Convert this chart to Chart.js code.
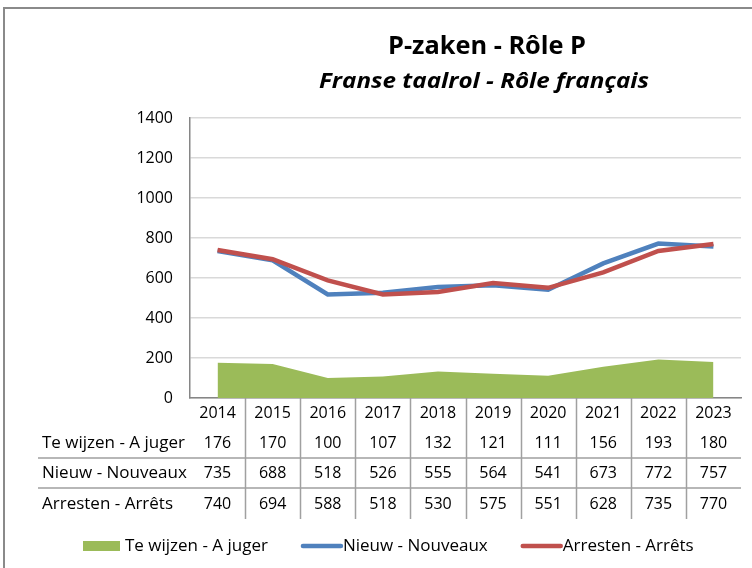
<!DOCTYPE html>
<html>
<head>
<meta charset="utf-8">
<script src="https://cdn.jsdelivr.net/npm/chart.js@4/dist/chart.umd.min.js"></script>
<style>
  html, body { margin: 0; padding: 0; background: #ffffff; }
  #wrap { width: 752px; height: 568px; }
</style>
</head>
<body>
<div id="wrap"><canvas id="c" width="752" height="568"></canvas></div>
<script>
// Categories and series
const years = ['2014', '2015', '2016', '2017', '2018', '2019', '2020', '2021', '2022', '2023'];
const teWijzen = [176, 170, 100, 107, 132, 121, 111, 156, 193, 180];
const nieuw = [735, 688, 518, 526, 555, 564, 541, 673, 772, 757];
const arresten = [740, 694, 588, 518, 530, 575, 551, 628, 735, 770];
const seriesNames = ['Te wijzen - A juger', 'Nieuw - Nouveaux', 'Arresten - Arrêts'];
const yMin = 0, yMax = 1400, yStep = 200;

const titleText = 'P-zaken - Rôle P';
const subtitleText = 'Franse taalrol - Rôle français';

const GREEN = '#9bbb59', BLUE = '#4f81bd', RED = '#c0504d';
const FONT = '"Open Sans", "DejaVu Sans", sans-serif';

// Draw text squeezed or stretched horizontally to a given width
function fitText(ctx, text, x, y, font, width, align) {
  ctx.save();
  ctx.font = font;
  const w = ctx.measureText(text).width;
  ctx.translate(x, y);
  ctx.scale(width / w, 1);
  ctx.textAlign = align || 'center';
  ctx.textBaseline = 'alphabetic';
  ctx.fillText(text, 0, 0);
  ctx.restore();
}

// Frame, titles, data table under the axis and the legend
const decorations = {
  id: 'decorations',
  afterDraw(chart) {
    const ctx = chart.ctx;
    const xs = chart.scales.x;
    const area = chart.chartArea;
    ctx.save();

    // outer frame
    ctx.strokeStyle = '#8a8a8a';
    ctx.lineWidth = 2;
    ctx.strokeRect(4, 8, 800, 600);

    // titles
    ctx.fillStyle = '#000';
    fitText(ctx, titleText, 487, 54, 'bold 25px ' + FONT, 198, 'center');
    fitText(ctx, subtitleText, 484, 88, 'italic bold 21px ' + FONT, 330, 'center');

    // data table
    const rows = [teWijzen, nieuw, arresten];
    const rowY = [443, 473, 504];
    const rowLines = [458, 488];
    ctx.strokeStyle = '#a0a0a0';
    ctx.lineWidth = 1.5;
    ctx.beginPath();
    for (let i = 0; i < years.length - 1; i++) {
      const bx = Math.round((xs.getPixelForValue(i) + xs.getPixelForValue(i + 1)) / 2) + 0.5;
      ctx.moveTo(bx, area.bottom);
      ctx.lineTo(bx, 519);
    }
    rowLines.forEach(ly => {
      ctx.moveTo(38, ly);
      ctx.lineTo(area.right, ly);
    });
    ctx.stroke();

    ctx.textBaseline = 'middle';
    rows.forEach((vals, r) => {
      ctx.font = '17px ' + FONT;
      ctx.textAlign = 'left';
      ctx.fillText(seriesNames[r], 42, rowY[r]);
      ctx.font = '16px ' + FONT;
      ctx.textAlign = 'center';
      vals.forEach((v, i) => ctx.fillText(String(v), xs.getPixelForValue(i), rowY[r]));
    });

    // legend
    const ly = 546;
    let lx = 83;
    chart.data.datasets.forEach((ds, i) => {
      if (i === 0) {
        ctx.fillStyle = ds.backgroundColor;
        ctx.fillRect(lx, ly - 5, 37, 10);
        lx += 42;
      } else {
        ctx.strokeStyle = ds.borderColor;
        ctx.lineWidth = 4.5;
        ctx.lineCap = 'round';
        ctx.beginPath();
        ctx.moveTo(lx + 2, ly);
        ctx.lineTo(lx + 40, ly);
        ctx.stroke();
        lx += 42;
      }
      ctx.fillStyle = '#000';
      ctx.font = '17px ' + FONT;
      ctx.textAlign = 'left';
      ctx.textBaseline = 'middle';
      ctx.fillText(ds.label, lx, ly);
      lx += ctx.measureText(ds.label).width + 33;
    });
    ctx.restore();
  }
};

new Chart(document.getElementById('c'), {
  type: 'line',
  data: {
    labels: years,
    datasets: [
      {
        label: seriesNames[0], data: teWijzen, fill: 'origin',
        backgroundColor: GREEN, borderColor: GREEN, borderWidth: 0,
        pointRadius: 0, tension: 0, order: 2
      },
      {
        label: seriesNames[1], data: nieuw, fill: false,
        borderColor: BLUE, backgroundColor: BLUE, borderWidth: 4.5,
        pointRadius: 0, tension: 0, order: 1
      },
      {
        label: seriesNames[2], data: arresten, fill: false,
        borderColor: RED, backgroundColor: RED, borderWidth: 4.5,
        pointRadius: 0, tension: 0, order: 0
      }
    ]
  },
  options: {
    responsive: false,
    animation: false,
    devicePixelRatio: 1,
    layout: { padding: { top: 118, right: 11, left: 0, bottom: 0 } },
    plugins: {
      legend: { display: false },
      title: { display: false },
      tooltip: { enabled: false }
    },
    scales: {
      x: {
        type: 'category',
        offset: true,
        grid: { display: false, drawTicks: false },
        border: { display: true, color: '#868686', width: 1.5 },
        ticks: { color: '#000', font: { family: FONT, size: 16 }, padding: 6, maxRotation: 0, autoSkip: false },
        afterFit(scale) { scale.height = 170; }
      },
      y: {
        min: yMin, max: yMax,
        grid: { color: '#d9d9d9', lineWidth: 1.5, drawTicks: false },
        border: { display: true, color: '#868686', width: 1.5 },
        ticks: {
          stepSize: yStep, color: '#000', font: { family: FONT, size: 16 }, padding: 17,
          callback: v => String(v)
        },
        afterFit(scale) { scale.width = 190; }
      }
    }
  },
  plugins: [decorations]
});
</script>
</body>
</html>
